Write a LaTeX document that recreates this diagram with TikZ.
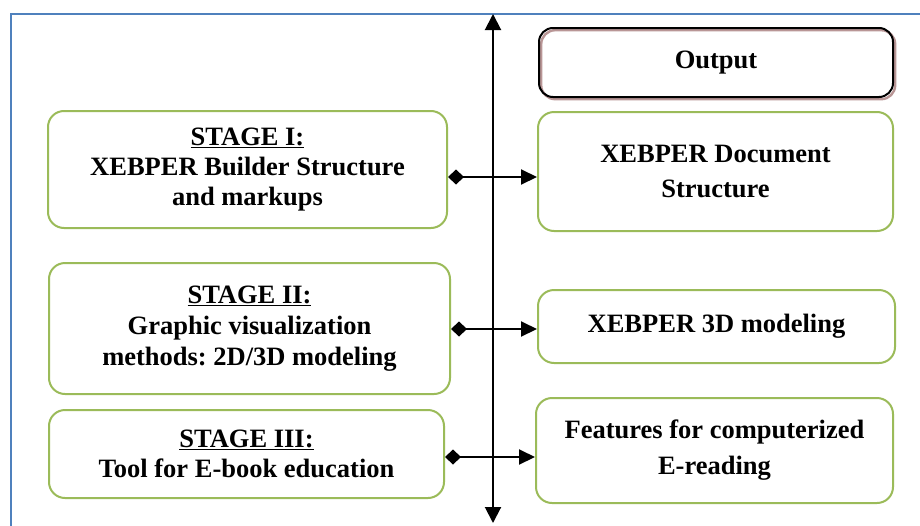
\documentclass[tikz,border=0pt]{standalone}
\usepackage{fontspec}
\setmainfont{Liberation Serif}
\usetikzlibrary{arrows.meta}
\definecolor{frameblue}{RGB}{79,129,189}
\definecolor{boxgreen}{RGB}{155,187,89}
\definecolor{shadowpink}{RGB}{185,150,150}
\tikzset{
  stagebox/.style={draw=boxgreen, line width=2pt, rounded corners=16pt, align=center,
    inner sep=0pt, font=\bfseries\fontsize{26.5}{30}\selectfont\frenchspacing},
  outbox/.style={draw=black, line width=2pt, rounded corners=14pt, align=center,
    inner sep=0pt, font=\bfseries\fontsize{26.5}{30}\selectfont,
    preaction={draw=shadowpink, line width=2.4pt, transform canvas={xshift=2.2pt,yshift=-2.2pt}}},
  link/.style={line width=2pt, {Diamond[length=16pt,width=15pt]}-{Triangle[length=16pt,width=15pt]}},
  axis/.style={line width=2pt, {Triangle[length=16pt,width=16pt]}-{Triangle[length=16pt,width=16pt]}}
}
\begin{document}
\begin{tikzpicture}[x=1pt,y=-1pt]
    \useasboundingbox (0,0) rectangle (920,525);
    % frame
    \draw[frameblue, line width=2.4pt] (11,530) -- (11,14) -- (925,14);
    % stages
    \node[stagebox, minimum width=399pt, minimum height=117pt] (st1) at (247.5,169.5)
      {\underline{STAGE I:}\\ XEBPER Builder Structure\\ and markups};
    \node[stagebox, minimum width=401pt, minimum height=131pt] (st2) at (249.5,328.5)
      {\underline{STAGE II:}\\[1pt] Graphic visualization\\[1pt] methods: 2D/3D modeling};
    \node[stagebox, minimum width=395pt, minimum height=88pt] (st3) at (246.5,454)
      {\underline{STAGE III:}\\ Tool for E-book education};
    % outputs
    \node[outbox, minimum width=354pt, minimum height=69pt] (out) at (716,62.5) {Output};
    \node[stagebox, minimum width=355pt, minimum height=119pt] (doc) at (715.5,171.5)
      {XEBPER Document\\[5pt] Structure};
    \node[stagebox, minimum width=357pt, minimum height=73pt] (model) at (716.5,326.5)
      {XEBPER 3D modeling};
    \node[stagebox, minimum width=357pt, minimum height=105pt] (feat) at (714.5,450.5)
      {Features for computerized\\[6pt] E-reading};
    % axis
    \coordinate (top) at (493,14);
    \coordinate (bot) at (493,523);
    \draw[axis] (bot) -- (top);
    % connectors
    \coordinate (r1) at (493,177);
    \coordinate (r2) at (493,329);
    \coordinate (r3) at (493,457);
    \draw[link] (st1.east |- r1) -- (doc.west |- r1);
    \draw[link] (st2.east |- r2) -- (model.west |- r2);
    \draw[link] (st3.east |- r3) -- (feat.west |- r3);
  \end{tikzpicture}
\end{document}
